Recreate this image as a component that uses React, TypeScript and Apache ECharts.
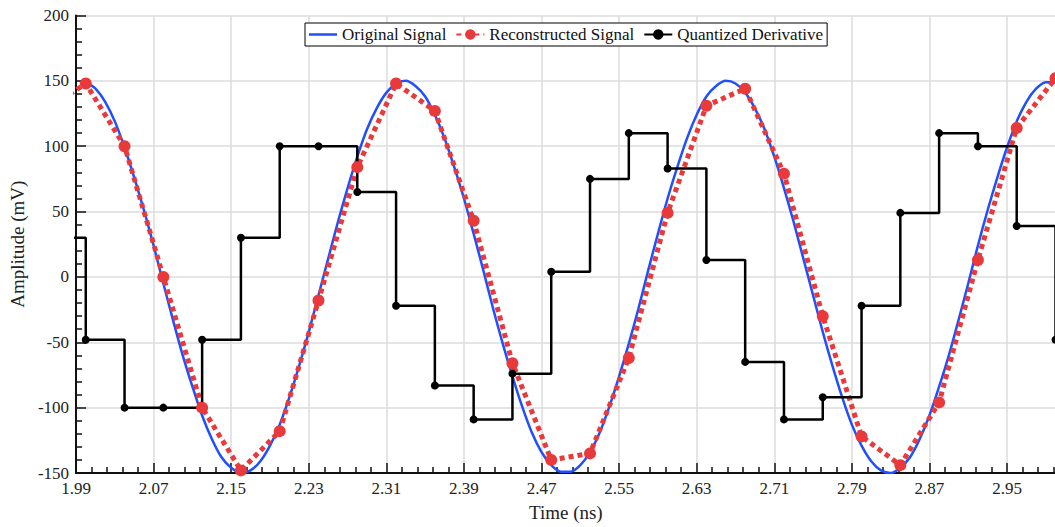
import React, { useEffect, useRef } from "react";
import * as echarts from "echarts";

const FONT = "'Liberation Serif', 'Times New Roman', serif";

// Sample instants (ns) of the reconstructed signal and quantized derivative
const sampleTimes = [
  1.96, 2.0, 2.04, 2.08, 2.12, 2.16, 2.2, 2.24, 2.28, 2.32, 2.36, 2.4, 2.44, 2.48,
  2.52, 2.56, 2.6, 2.64, 2.68, 2.72, 2.76, 2.8, 2.84, 2.88, 2.92, 2.96, 3.0,
];
const reconstructedValues = [
  128, 148, 100, 0, -100, -148, -118, -18, 84, 148, 127, 43, -66, -140,
  -135, -62, 49, 131, 144, 79, -30, -122, -144, -96, 13, 114, 152,
];
const derivativeValues = [
  30, -48, -100, -100, -48, 30, 100, 100, 65, -22, -83, -109, -74, 4,
  75, 110, 83, 13, -65, -109, -92, -22, 49, 110, 100, 39, -48,
];

// Original signal, every 0.01 ns from 2.00 to 3.00
const originalTimes = [
  2.0, 2.01, 2.02, 2.03, 2.04, 2.05, 2.06, 2.07, 2.08, 2.09,
  2.1, 2.11, 2.12, 2.13, 2.14, 2.15, 2.16, 2.17, 2.18, 2.19,
  2.2, 2.21, 2.22, 2.23, 2.24, 2.25, 2.26, 2.27, 2.28, 2.29,
  2.3, 2.31, 2.32, 2.33, 2.34, 2.35, 2.36, 2.37, 2.38, 2.39,
  2.4, 2.41, 2.42, 2.43, 2.44, 2.45, 2.46, 2.47, 2.48, 2.49,
  2.5, 2.51, 2.52, 2.53, 2.54, 2.55, 2.56, 2.57, 2.58, 2.59,
  2.6, 2.61, 2.62, 2.63, 2.64, 2.65, 2.66, 2.67, 2.68, 2.69,
  2.7, 2.71, 2.72, 2.73, 2.74, 2.75, 2.76, 2.77, 2.78, 2.79,
  2.8, 2.81, 2.82, 2.83, 2.84, 2.85, 2.86, 2.87, 2.88, 2.89,
  2.9, 2.91, 2.92, 2.93, 2.94, 2.95, 2.96, 2.97, 2.98, 2.99,
  3.0,
];
const originalValues = [
  149, 144, 134, 119, 99, 76, 51, 24, -5, -33,
  -60, -84, -106, -124, -138, -146, -150, -148, -141, -129,
  -113, -92, -68, -42, -14, 14, 42, 68, 92, 113,
  129, 141, 148, 150, 146, 138, 124, 106, 84, 60,
  33, 5, -24, -51, -76, -99, -119, -134, -144, -149,
  -149, -144, -134, -119, -99, -76, -51, -24, 5, 33,
  60, 84, 106, 124, 138, 146, 150, 148, 141, 129,
  113, 92, 68, 42, 14, -14, -42, -68, -92, -113,
  -129, -141, -148, -150, -146, -138, -124, -106, -84, -60,
  -33, -5, 24, 51, 76, 99, 119, 134, 144, 149,
  149,
];

const seriesNames = ["Original Signal", "Reconstructed Signal", "Quantized Derivative"];
const xMin = 1.99;
const xMax = 3.03;
const xStep = 0.08;
const yMin = -150;
const yMax = 200;
const yStep = 50;

export default function App() {
  const ref = useRef<HTMLDivElement>(null);

  useEffect(() => {
    if (!ref.current) return;
    const chart = echarts.init(ref.current, undefined, { renderer: "svg" });

    const pair = (xs: number[], ys: number[]) => xs.map((x, i) => [x, ys[i]]);

    const axisCommon = {
      axisLine: { show: true, onZero: false, lineStyle: { color: "#111", width: 2 } },
      axisTick: { show: true, inside: true, length: 10, lineStyle: { color: "#111", width: 1.5 } },
      minorTick: { show: true, splitNumber: 5, length: 6, lineStyle: { color: "#111", width: 1.5 } },
      splitLine: { show: true, lineStyle: { color: "#dddddd", width: 1.5 } },
      nameTextStyle: { fontFamily: FONT, fontSize: 19, color: "#222" },
    };
    const labelCommon = { fontFamily: FONT, fontSize: 17, color: "#222", margin: 7 };

    chart.setOption({
      animation: false,
      backgroundColor: "#ffffff",
      grid: { left: 71, top: 15.5, width: (xMax - xMin) * 974.6, height: 460, containLabel: false },
      legend: {
        left: 305,
        top: 23,
        padding: [3, 4],
        itemGap: 9,
        itemWidth: 28,
        itemHeight: 13,
        borderColor: "#000",
        borderWidth: 1,
        borderRadius: 0,
        backgroundColor: "#ffffff",
        textStyle: { fontFamily: FONT, fontSize: 17, color: "#111" },
        data: [
          { name: seriesNames[0], icon: "path://M0,0 L28,0 L28,2.5 L0,2.5 Z" },
          { name: seriesNames[1] },
          { name: seriesNames[2] },
        ],
      },
      xAxis: {
        type: "value",
        min: xMin,
        max: xMax,
        interval: xStep,
        name: "Time (ns)",
        nameLocation: "middle",
        nameGap: 30,
        ...axisCommon,
        nameTextStyle: { ...axisCommon.nameTextStyle, padding: [0, 29, 0, 0] },
        axisLabel: { ...labelCommon, showMaxLabel: false, formatter: (v: number) => v.toFixed(2) },
      },
      yAxis: {
        type: "value",
        min: yMin,
        max: yMax,
        interval: yStep,
        name: "Amplitude (mV)",
        nameLocation: "middle",
        nameGap: 42,
        ...axisCommon,
        axisLabel: { ...labelCommon },
      },
      series: [
        {
          name: seriesNames[0],
          type: "line",
          data: pair(originalTimes, originalValues),
          smooth: 0.3,
          symbol: "none",
          lineStyle: { color: "#1f4fff", width: 2.5 },
          itemStyle: { color: "#1f4fff" },
        },
        {
          name: seriesNames[1],
          type: "line",
          data: pair(sampleTimes, reconstructedValues),
          symbol: "circle",
          symbolSize: 12,
          lineStyle: { color: "#e83a3a", width: 5, type: [5, 4] },
          itemStyle: { color: "#e83a3a" },
        },
        {
          name: seriesNames[2],
          type: "line",
          data: pair(sampleTimes, derivativeValues),
          step: "end",
          symbol: "circle",
          symbolSize: 8,
          lineStyle: { color: "#000", width: 2.5 },
          itemStyle: { color: "#000" },
        },
      ],
    });

    return () => chart.dispose();
  }, []);

  return (
    <div
      style={{
        position: "fixed",
        left: 0,
        top: 0,
        width: 1055,
        height: 527,
        overflow: "hidden",
        background: "#fff",
      }}
    >
      <div ref={ref} style={{ width: 1110, height: 527 }} />
    </div>
  );
}
